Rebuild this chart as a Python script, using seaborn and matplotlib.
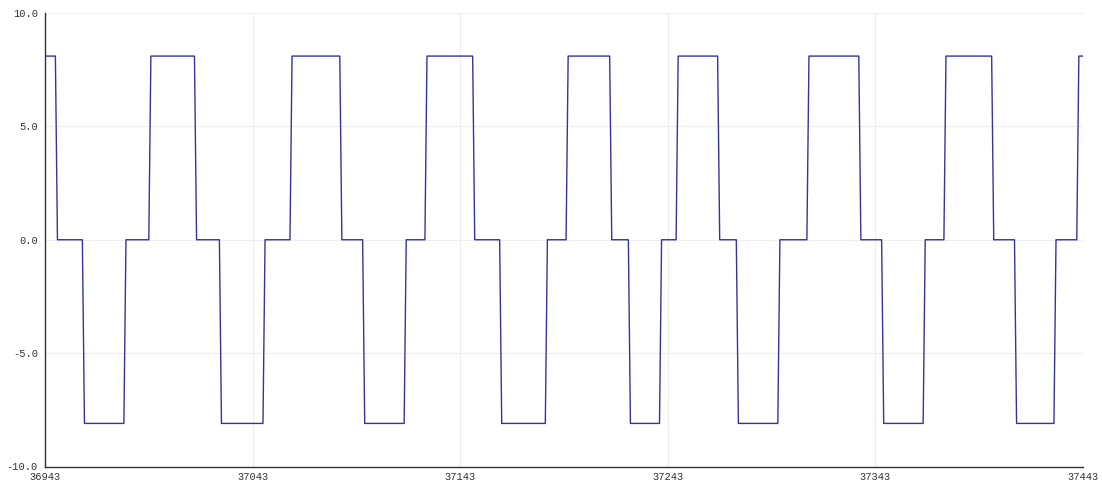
import numpy as np
import pandas as pd
import matplotlib
matplotlib.use("Agg")
import matplotlib.pyplot as plt
import seaborn as sns

# ---- data (run-length encoded samples) ----
x_start = 36943
x_end = 37443
levels = [8.1, 0.0, -8.1, 0.0, 8.1, 0.0, -8.1, 0.0, 8.1, 0.0, -8.1, 0.0,
          8.1, 0.0, -8.1, 0.0, 8.1, 0.0, -8.1, 0.0, 8.1, 0.0, -8.1, 0.0,
          8.1, 0.0, -8.1, 0.0, 8.1, 0.0, -8.1, 0.0, 8.1]
run_lengths = [6, 13, 20, 12, 22, 12, 21, 13, 24, 11, 20, 10,
               23, 13, 22, 10, 21, 9, 15, 8, 20, 9, 20, 14,
               25, 11, 20, 10, 23, 11, 19, 11, 3]
x_ticks = [36943, 37043, 37143, 37243, 37343, 37443]
y_ticks = [-10.0, -5.0, 0.0, 5.0, 10.0]

values = np.repeat(levels, run_lengths)
samples = np.arange(x_start, x_start + len(values))
df = pd.DataFrame({"sample": samples, "value": values})

sns.set_theme(style="white")
plt.rcParams["font.family"] = ["Liberation Mono", "DejaVu Sans Mono"]

fig = plt.figure(figsize=(11.02, 4.80), dpi=100)
ax = fig.add_axes([45 / 1102, 1 - 466.5 / 480, (1083 - 45) / 1102, (466.5 - 13) / 480])

sns.lineplot(data=df, x="sample", y="value", ax=ax, color="#34349e",
             linewidth=1.0)

ax.set_xlim(x_start, x_end)
ax.set_ylim(-10, 10)
ax.set_xticks(x_ticks)
ax.set_xticklabels([str(t) for t in x_ticks])
ax.set_yticks(y_ticks)
ax.set_yticklabels([f"{t:.1f}" for t in y_ticks])
ax.set_xlabel("")
ax.set_ylabel("")

ax.grid(True, color="#eeeeee", linewidth=0.8)
ax.set_axisbelow(True)
for side in ["top", "right"]:
    ax.spines[side].set_visible(False)
for side in ["left", "bottom"]:
    ax.spines[side].set_color("#333333")
    ax.spines[side].set_linewidth(1.0)

ax.tick_params(axis="both", direction="inout", length=6, width=1,
               color="#333333", labelsize=7.5, labelcolor="#333333", pad=1)
ax.tick_params(axis="y", pad=2)

fig.savefig("out.png", dpi=100, facecolor="white")
